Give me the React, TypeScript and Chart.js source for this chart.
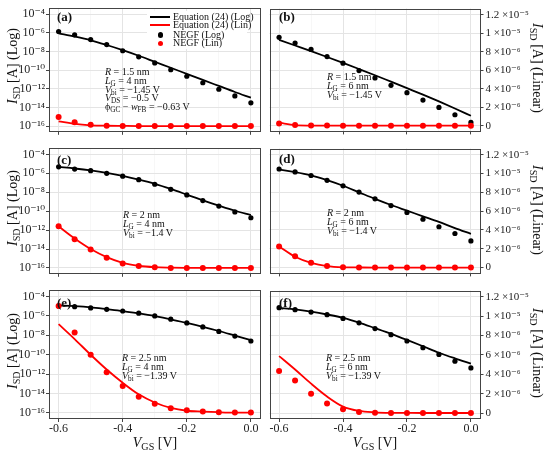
import { useEffect, useRef } from "react";
import { Chart, registerables } from "chart.js";

Chart.register(...registerables);

const FONT = "'Liberation Serif', 'Times New Roman', 'DejaVu Serif', serif";

// gate voltage, same for every panel
const vgs = [-0.6, -0.55, -0.5, -0.45, -0.4, -0.35, -0.3, -0.25, -0.2, -0.15, -0.1, -0.05, 0.0];

// (a) R = 1.5 nm, LG = 4 nm  (log axis)
const aEqLog = [8.9e-7, 4.0e-7, 1.6e-7, 5.0e-8, 1.4e-8, 3.5e-9, 7.9e-10, 1.8e-10, 4.0e-11, 8.9e-12, 2.0e-12, 4.5e-13, 1.1e-13];
const aNegfLog = [1.4e-6, 6.2e-7, 1.9e-7, 5.6e-8, 1.2e-8, 2.7e-9, 5.9e-10, 1.1e-10, 2.2e-11, 4.4e-12, 8.9e-13, 1.7e-13, 3.1e-14];
const aEqLin = [3.2e-16, 1.7e-16, 1.2e-16, 1.07e-16, 1.03e-16, 1.0e-16, 1.0e-16, 1.0e-16, 1.0e-16, 1.0e-16, 1.0e-16, 1.0e-16, 1.0e-16];
const aNegfLin = [9.1e-16, 2.5e-16, 1.4e-16, 1.1e-16, 1.0e-16, 1.0e-16, 1.0e-16, 1.0e-16, 1.0e-16, 1.0e-16, 1.0e-16, 1.0e-16, 1.0e-16];

// (b) R = 1.5 nm, LG = 6 nm  (linear axis)
const bEqLog = [9.27e-6, 8.66e-6, 8.05e-6, 7.42e-6, 6.78e-6, 6.12e-6, 5.45e-6, 4.75e-6, 4.05e-6, 3.35e-6, 2.62e-6, 1.86e-6, 1.07e-6];
const bNegfLog = [9.55e-6, 8.93e-6, 8.24e-6, 7.47e-6, 6.75e-6, 5.95e-6, 5.16e-6, 4.36e-6, 3.56e-6, 2.77e-6, 1.97e-6, 1.18e-6, 0.35e-6];
const bEqLin = [0.32e-6, 0.06e-6, 0.01e-6, 0, 0, 0, 0, 0, 0, 0, 0, 0, 0];
const bNegfLin = [0.24e-6, 0.07e-6, 0.02e-6, 0.01e-6, 0, 0, 0, 0, 0, 0, 0, 0, 0];

// (c) R = 2 nm, LG = 4 nm  (log axis)
const cEqLog = [4.7e-6, 3.2e-6, 2.0e-6, 1.1e-6, 5.2e-7, 2.1e-7, 7.6e-8, 2.2e-8, 5.6e-9, 1.4e-9, 3.8e-10, 1.1e-10, 3.8e-11];
const cNegfLog = [4.8e-6, 2.8e-6, 1.9e-6, 1.0e-6, 4.9e-7, 2.1e-7, 6.9e-8, 2.0e-8, 5.2e-9, 1.3e-9, 3.4e-10, 8.3e-11, 2.0e-11];
const cEqLin = [2.5e-12, 1.3e-13, 1.0e-14, 1.4e-15, 3.5e-16, 1.7e-16, 1.2e-16, 1.07e-16, 1.02e-16, 1.0e-16, 1.0e-16, 1.0e-16, 1.0e-16];
const cNegfLin = [2.6e-12, 1.1e-13, 8.7e-15, 1.2e-15, 3.0e-16, 1.6e-16, 1.2e-16, 1.0e-16, 1.0e-16, 1.0e-16, 1.0e-16, 1.0e-16, 1.0e-16];

// (d) R = 2 nm, LG = 6 nm  (linear axis)
const dEqLog = [10.41e-6, 10.15e-6, 9.8e-6, 9.3e-6, 8.7e-6, 8.0e-6, 7.3e-6, 6.65e-6, 6.05e-6, 5.45e-6, 4.85e-6, 4.2e-6, 3.59e-6];
const dNegfLog = [10.48e-6, 10.17e-6, 9.79e-6, 9.28e-6, 8.69e-6, 8.03e-6, 7.31e-6, 6.59e-6, 5.86e-6, 5.14e-6, 4.34e-6, 3.62e-6, 2.83e-6];
const dEqLin = [2.24e-6, 1.15e-6, 0.5e-6, 0.15e-6, 0.03e-6, 0.01e-6, 0, 0, 0, 0, 0, 0, 0];
const dNegfLin = [2.24e-6, 1.21e-6, 0.52e-6, 0.17e-6, 0.03e-6, 0.01e-6, 0, 0, 0, 0, 0, 0, 0];

// (e) R = 2.5 nm, LG = 4 nm  (log axis)
const eEqLog = [1.2e-5, 1.0e-5, 7.6e-6, 5.0e-6, 3.2e-6, 1.8e-6, 9.5e-7, 4.5e-7, 1.9e-7, 7.6e-8, 2.8e-8, 9.5e-9, 3.2e-9];
const eNegfLog = [1.05e-5, 8.9e-6, 6.6e-6, 4.8e-6, 3.2e-6, 1.9e-6, 1.0e-6, 4.6e-7, 1.9e-7, 7.4e-8, 2.5e-8, 8.3e-9, 2.6e-9];
const eEqLin = [1.4e-7, 4.1e-9, 1.0e-10, 3.0e-12, 1.3e-13, 8.3e-15, 1.2e-15, 3.3e-16, 1.7e-16, 1.4e-16, 1.2e-16, 1.1e-16, 1.1e-16];
const eNegfLin = [1.05e-5, 2.0e-8, 1.0e-10, 1.6e-12, 5.9e-14, 4.8e-15, 9.1e-16, 3.1e-16, 1.9e-16, 1.4e-16, 1.2e-16, 1.1e-16, 1.1e-16];

// (f) R = 2.5 nm, LG = 6 nm  (linear axis)
const fEqLog = [10.85e-6, 10.7e-6, 10.47e-6, 10.18e-6, 9.84e-6, 9.35e-6, 8.77e-6, 8.18e-6, 7.55e-6, 6.9e-6, 6.23e-6, 5.65e-6, 5.11e-6];
const fNegfLog = [10.89e-6, 10.68e-6, 10.43e-6, 10.16e-6, 9.77e-6, 9.32e-6, 8.73e-6, 8.1e-6, 7.44e-6, 6.75e-6, 6.05e-6, 5.36e-6, 4.66e-6];
const fEqLin = [5.88e-6, 4.49e-6, 3.03e-6, 1.7e-6, 0.66e-6, 0.21e-6, 0.07e-6, 0.02e-6, 0.01e-6, 0, 0, 0, 0];
const fNegfLin = [4.35e-6, 3.37e-6, 1.98e-6, 0.97e-6, 0.38e-6, 0.1e-6, 0.03e-6, 0.01e-6, 0, 0, 0, 0, 0];

// ticks
const xTickValues = [-0.6, -0.5, -0.4, -0.3, -0.2, -0.1, 0.0];
const xTickLabels = ["-0.6", "", "-0.4", "", "-0.2", "", "0.0"];
const logTickValues = [1e-16, 1e-15, 1e-14, 1e-13, 1e-12, 1e-11, 1e-10, 1e-9, 1e-8, 1e-7, 1e-6, 1e-5, 1e-4];
const logTickLabels = ["10⁻¹⁶", "", "10⁻¹⁴", "", "10⁻¹²", "", "10⁻¹⁰", "", "10⁻⁸", "", "10⁻⁶", "", "10⁻⁴"];
const linTickValues = [0, 1e-6, 2e-6, 3e-6, 4e-6, 5e-6, 6e-6, 7e-6, 8e-6, 9e-6, 1e-5, 1.1e-5, 1.2e-5];
const linTickLabels = ["0", "", "2 ×10⁻⁶", "", "4 ×10⁻⁶", "", "6 ×10⁻⁶", "", "8 ×10⁻⁶", "", "1 ×10⁻⁵", "", "1.2 ×10⁻⁵"];

const RED = "#ff0000";
const BLACK = "#000000";

const COLS = [
  { left: 0, width: 265, padL: 0, padR: 4.5, axisW: 49 },
  { left: 265, width: 285, padL: 4.5, padR: 0, axisW: 69.5 },
];
const ROWS = [
  { top: 0, height: 140, padT: 5, axisH: 6 },
  { top: 140, height: 142, padT: 7, axisH: 6 },
  { top: 282, height: 171, padT: 7.5, axisH: 34 },
];

const panels = [
  { row: 0, col: 0, series: [aEqLog, aNegfLog, aEqLin, aNegfLin] },
  { row: 0, col: 1, series: [bEqLog, bNegfLog, bEqLin, bNegfLin] },
  { row: 1, col: 0, series: [cEqLog, cNegfLog, cEqLin, cNegfLin] },
  { row: 1, col: 1, series: [dEqLog, dNegfLog, dEqLin, dNegfLin] },
  { row: 2, col: 0, series: [eEqLog, eNegfLog, eEqLin, eNegfLin] },
  { row: 2, col: 1, series: [fEqLog, fNegfLog, fEqLin, fNegfLin] },
];

const framePlugin = {
  id: "frame",
  afterDraw(chart: Chart) {
    const { ctx, chartArea: a } = chart;
    ctx.save();
    ctx.strokeStyle = "#444";
    ctx.lineWidth = 1;
    ctx.strokeRect(Math.round(a.left) + 0.5, Math.round(a.top) + 0.5, Math.round(a.width) - 1, Math.round(a.height) - 1);
    ctx.restore();
  },
};

const pts = (ys: number[]) => ys.map((y, i) => ({ x: vgs[i], y }));
const minorGrid = {
  color: (c: any) => (c.index % 2 ? "#f1f1f1" : "#e4e4e4"),
  lineWidth: (c: any) => (c.index % 2 ? 0.6 : 1),
  tickColor: (c: any) => (c.index % 2 ? "rgba(0,0,0,0)" : "#444"),
  tickLength: 3,
};

function Panel({ p }: { p: (typeof panels)[number] }) {
  const canvasRef = useRef<HTMLCanvasElement>(null);
  const row = ROWS[p.row];
  const col = COLS[p.col];

  useEffect(() => {
    const canvas = canvasRef.current;
    if (!canvas) return;
    const [eqLog, negfLog, eqLin, negfLin] = p.series;
    const isLog = p.col === 0;
    const bottomRow = p.row === 2;

    const yScale: any = isLog
      ? {
          type: "logarithmic",
          position: "left",
          min: Math.pow(10, -16.62),
          max: Math.pow(10, -3.35),
          afterBuildTicks: (s: any) => {
            s.ticks = logTickValues.map((v) => ({ value: v }));
          },
          afterFit: (s: any) => {
            s.width = col.axisW;
          },
          ticks: {
            callback: (_v: any, i: number) => logTickLabels[i],
            color: "#222",
            font: { family: FONT, size: 12 },
            padding: 1,
          },
          grid: minorGrid,
          border: { display: false },
        }
      : {
          type: "linear",
          position: "right",
          min: -0.62e-6,
          max: 12.65e-6,
          afterBuildTicks: (s: any) => {
            s.ticks = linTickValues.map((v) => ({ value: v }));
          },
          afterFit: (s: any) => {
            s.width = col.axisW;
          },
          ticks: {
            callback: (_v: any, i: number) => linTickLabels[i],
            color: "#222",
            font: { family: FONT, size: 11 },
            padding: 2,
          },
          grid: minorGrid,
          border: { display: false },
        };

    const chart = new Chart(canvas, {
      type: "line",
      data: {
        datasets: [
          { label: "NEGF (Lin)", data: pts(negfLin), showLine: false, pointRadius: 3, pointBackgroundColor: RED, pointBorderWidth: 0, borderColor: RED },
          { label: "NEGF (Log)", data: pts(negfLog), showLine: false, pointRadius: 2.6, pointBackgroundColor: BLACK, pointBorderWidth: 0, borderColor: BLACK },
          { label: "Equation (24) (Lin)", data: pts(eqLin), borderColor: RED, borderWidth: 1.8, pointRadius: 0, cubicInterpolationMode: "monotone" },
          { label: "Equation (24) (Log)", data: pts(eqLog), borderColor: BLACK, borderWidth: 1.8, pointRadius: 0, cubicInterpolationMode: "monotone" },
        ],
      },
      options: {
        animation: false,
        responsive: true,
        maintainAspectRatio: false,
        layout: { padding: { top: row.padT, left: col.padL, right: col.padR, bottom: 0 } },
        plugins: { legend: { display: false }, tooltip: { enabled: false } },
        scales: {
          x: {
            type: "linear",
            min: -0.63,
            max: 0.03,
            afterBuildTicks: (s: any) => {
              s.ticks = xTickValues.map((v) => ({ value: v }));
            },
            afterFit: (s: any) => {
              s.height = row.axisH;
            },
            ticks: {
              display: bottomRow,
              callback: (_v: any, i: number) => xTickLabels[i],
              autoSkip: false,
              maxRotation: 0,
              color: "#222",
              font: { family: FONT, size: 12 },
              padding: 0,
            },
            grid: minorGrid,
            border: { display: false },
          },
          y: yScale,
        },
      },
      plugins: [framePlugin],
    });
    return () => chart.destroy();
  }, [p]);

  return (
    <div style={{ position: "absolute", left: col.left, top: row.top, width: col.width, height: row.height }}>
      <canvas ref={canvasRef} />
    </div>
  );
}

const sub = { fontSize: "0.72em", position: "relative" as const, top: "0.28em" };

function Txt({ x, y, size = 10, children, bold = false }: any) {
  return (
    <div style={{ position: "absolute", left: x, top: y, fontSize: size, lineHeight: 1, whiteSpace: "nowrap", fontWeight: bold ? "bold" : "normal" }}>
      {children}
    </div>
  );
}

function Note({ x, y, r, lg, vbi, extra }: { x: number; y: number; r: string; lg: string; vbi: string; extra?: boolean }) {
  const step = 8.8;
  return (
    <>
      <Txt x={x} y={y}><i>R</i> = {r} nm</Txt>
      <Txt x={x} y={y + step}><i>L</i><span style={sub}>G</span> = {lg} nm</Txt>
      <Txt x={x} y={y + 2 * step}><i>V</i><span style={sub}>bi</span> = −{vbi} V</Txt>
      {extra && (
        <>
          <Txt x={x} y={y + 3 * step}><i>V</i><span style={sub}>DS</span> = −0.5 V</Txt>
          <Txt x={x} y={y + 4 * step}>ϕ<span style={sub}>GC</span> − <i>w</i><span style={sub}>FB</span> = −0.63 V</Txt>
        </>
      )}
    </>
  );
}

function YTitle({ x, y, text, rot }: { x: number; y: number; text: string; rot: number }) {
  return (
    <div style={{ position: "absolute", left: x, top: y, transform: `translate(-50%, -50%) rotate(${rot}deg)`, fontSize: 14, whiteSpace: "nowrap", lineHeight: 1 }}>
      <i>I</i><span style={sub}>SD</span> [A] ({text})
    </div>
  );
}

function LegendRow({ y, color, kind, label }: { y: number; color: string; kind: "line" | "dot"; label: string }) {
  return (
    <>
      {kind === "line" ? (
        <div style={{ position: "absolute", left: 150, top: y - 1, width: 20, height: 2, background: color }} />
      ) : (
        <div style={{ position: "absolute", left: 157.5, top: y - 2.7, width: 5.4, height: 5.4, borderRadius: "50%", background: color }} />
      )}
      <Txt x={173} y={y - 5}>{label}</Txt>
    </>
  );
}

export default function App() {
  return (
    <div style={{ position: "absolute", left: 0, top: 0, width: 550, height: 453, background: "#fff", fontFamily: FONT, color: "#111" }}>
      {panels.map((p, i) => (
        <Panel key={i} p={p} />
      ))}

      <YTitle x={13} y={66} text="Log" rot={-90} />
      <YTitle x={13} y={208} text="Log" rot={-90} />
      <YTitle x={13} y={351} text="Log" rot={-90} />
      <YTitle x={537} y={68} text="Linear" rot={90} />
      <YTitle x={537} y={210} text="Linear" rot={90} />
      <YTitle x={537} y={353} text="Linear" rot={90} />

      <div style={{ position: "absolute", left: 155, top: 443, transform: "translate(-50%, -50%)", fontSize: 14, whiteSpace: "nowrap", lineHeight: 1 }}>
        <i>V</i><span style={sub}>GS</span> [V]
      </div>
      <div style={{ position: "absolute", left: 375, top: 443, transform: "translate(-50%, -50%)", fontSize: 14, whiteSpace: "nowrap", lineHeight: 1 }}>
        <i>V</i><span style={sub}>GS</span> [V]
      </div>

      <Txt x={57} y={10} size={13} bold>(a)</Txt>
      <Txt x={279} y={10} size={13} bold>(b)</Txt>
      <Txt x={57} y={153} size={13} bold>(c)</Txt>
      <Txt x={279} y={152} size={13} bold>(d)</Txt>
      <Txt x={57} y={296} size={13} bold>(e)</Txt>
      <Txt x={279} y={296} size={13} bold>(f)</Txt>

      <div style={{ position: "absolute", left: 147, top: 11, width: 100, height: 38, background: "#fff" }} />
      <LegendRow y={16.7} color={BLACK} kind="line" label="Equation (24) (Log)" />
      <LegendRow y={25.3} color={RED} kind="line" label="Equation (24) (Lin)" />
      <LegendRow y={35} color={BLACK} kind="dot" label="NEGF (Log)" />
      <LegendRow y={43.3} color={RED} kind="dot" label="NEGF (Lin)" />

      <Note x={105} y={67} r="1.5" lg="4" vbi="1.45" extra />
      <Note x={327} y={72} r="1.5" lg="6" vbi="1.45" />
      <Note x={123} y={210} r="2" lg="4" vbi="1.4" />
      <Note x={327} y={208} r="2" lg="6" vbi="1.4" />
      <Note x={122} y={353} r="2.5" lg="4" vbi="1.39" />
      <Note x={326} y={353} r="2.5" lg="6" vbi="1.39" />
    </div>
  );
}
